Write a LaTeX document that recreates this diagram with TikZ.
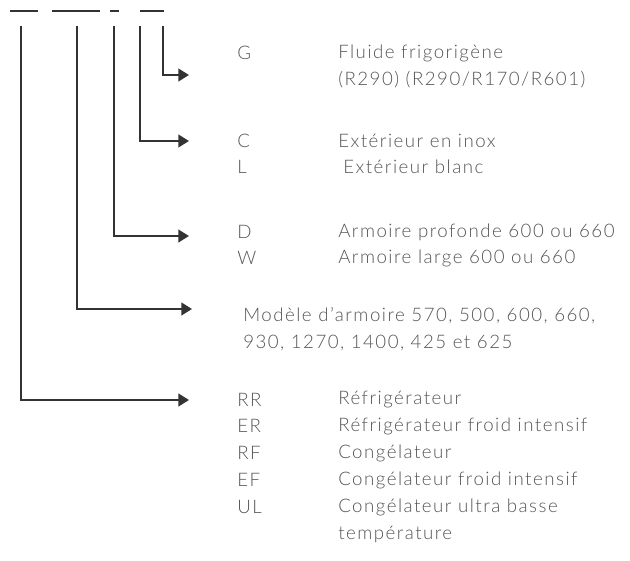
\documentclass[tikz,border=0pt]{standalone}
\usepackage{fontspec}
\setmainfont{Lato}[UprightFont={* Light},LetterSpace=8]
\usetikzlibrary{arrows.meta}
\definecolor{lc}{HTML}{333333}
\definecolor{tc}{HTML}{555555}
\begin{document}
\begin{tikzpicture}[x=0.75pt,y=-0.75pt,
  dashseg/.style={draw=lc,line width=1.6pt},
  conn/.style={draw=lc,line width=1.6pt,-{Triangle[length=8pt,width=9.5pt]}},
  lbl/.style={anchor=west,inner sep=0pt,text=tc,font=\fontsize{14}{16}\selectfont}]
\useasboundingbox (0,0) rectangle (630,560);
% dashes
\draw[dashseg] (10,11) -- (38,11);
\draw[dashseg] (52,11) -- (100,11);
\draw[dashseg] (110,11) -- (119,11);
\draw[dashseg] (140,11) -- (164,11);
% top coordinates of connectors
\coordinate (t1) at (21,26);
\coordinate (t2) at (77,26);
\coordinate (t3) at (114,26);
\coordinate (t4) at (140,26);
\coordinate (t5) at (163,26);
% arrow end points
\coordinate (a5) at (189,75);
\coordinate (a4) at (189,141);
\coordinate (a3) at (189,236);
\coordinate (a2) at (192,309);
\coordinate (a1) at (189,400);
% labels
\node[lbl] (g) at (237,53) {G};
\node[lbl] (gd) at (338,53) {Fluide frigorigène};
\node[lbl] (gd2) at (338,80) {(R290) (R290/R170/R601)};
\node[lbl] (c) at (237,141) {C};
\node[lbl] (cd) at (338,141) {Extérieur en inox};
\node[lbl] (l) at (237,167) {L};
\node[lbl] (ld) at (343,167) {Extérieur blanc};
\node[lbl] (d) at (237,232) {D};
\node[lbl] (dd) at (338,232) {Armoire profonde 600 ou 660};
\node[lbl] (w) at (237,258) {W};
\node[lbl] (wd) at (338,258) {Armoire large 600 ou 660};
\node[lbl] (m) at (243,316) {Modèle d’armoire 570, 500, 600, 660,};
\node[lbl] (m2) at (243,343) {930, 1270, 1400, 425 et 625};
\node[lbl] (rr) at (237,400) {RR};
\node[lbl] (rrd) at (338,400) {Réfrigérateur};
\node[lbl] (er) at (237,426) {ER};
\node[lbl] (erd) at (338,426) {Réfrigérateur froid intensif};
\node[lbl] (rf) at (237,453) {RF};
\node[lbl] (rfd) at (338,453) {Congélateur};
\node[lbl] (ef) at (237,480) {EF};
\node[lbl] (efd) at (338,480) {Congélateur froid intensif};
\node[lbl] (ul) at (237,507) {UL};
\node[lbl] (uld) at (338,507) {Congélateur ultra basse};
\node[lbl] (uld2) at (338,534) {température};
% connectors
\draw[conn] (t5) |- (a5);
\draw[conn] (t4) |- (a4);
\draw[conn] (t3) |- (a3);
\draw[conn] (t2) |- (a2);
\draw[conn] (t1) |- (a1);
\end{tikzpicture}
\end{document}
